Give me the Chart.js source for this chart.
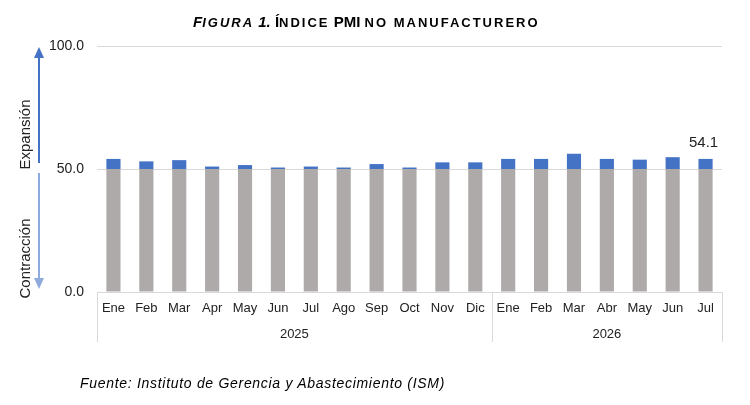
<!DOCTYPE html>
<html>
<head>
<meta charset="utf-8">
<script src="https://cdn.jsdelivr.net/npm/chart.js@4.4.0/dist/chart.umd.min.js"></script>
<style>
html,body{margin:0;padding:0;background:#fff;}
#wrap{position:relative;width:750px;height:405px;overflow:hidden;}
canvas{position:absolute;left:0;top:0;}
#title{position:absolute;left:193px;top:14px;white-space:nowrap;font-family:"Liberation Sans",Arial,sans-serif;font-weight:bold;color:#000;line-height:15px;font-size:15px;}
#title .s{font-size:13px;text-transform:uppercase;letter-spacing:2px;}
#src{position:absolute;left:80px;top:375px;white-space:nowrap;font:italic 14px "Liberation Sans",Arial,sans-serif;letter-spacing:0.7px;line-height:16px;color:#000;}
</style>
</head>
<body>
<div id="wrap">
<canvas id="c" width="750" height="405" style="width:750px;height:405px"></canvas>
<div id="title"><i>F<span class="s">igura</span> 1.</i> Í<span class="s">ndice</span> PMI <span class="s">no manufacturero</span></div>
<div id="src">Fuente: Instituto de Gerencia y Abastecimiento (ISM)</div>
</div>
<script>
const months = ['Ene','Feb','Mar','Apr','May','Jun','Jul','Ago','Sep','Oct','Nov','Dic','Ene','Feb','Mar','Abr','May','Jun','Jul'];
const years = ['2025','2026'];
const yearSpans = [12, 7];
const pmi = [54.1,53.1,53.6,51.0,51.6,50.6,51.0,50.6,52.0,50.6,52.7,52.7,54.1,54.1,56.2,54.1,53.8,54.8,54.1];
const threshold = 50;
const yTicks = [0, 50, 100];
const upperLabel = 'Expansión';
const lowerLabel = 'Contracción';
const lastLabel = '54.1';

const FONT = '"Liberation Sans", Arial, sans-serif';
const baseVals = pmi.map(v => Math.min(v, threshold));
const aboveVals = pmi.map(v => Math.max(v - threshold, 0));

const decor = {
  id: 'decor',
  afterDraw(chart) {
    const ctx = chart.ctx;
    const x = chart.scales.x, y = chart.scales.y;
    const area = chart.chartArea;
    const axisY = area.bottom;
    const lowY = axisY + 50;
    ctx.save();
    // group separators
    ctx.strokeStyle = '#d9d9d9';
    ctx.lineWidth = 1;
    const bounds = [area.left];
    let idx = 0;
    yearSpans.forEach((n, i) => {
      idx += n;
      if (idx < months.length) {
        bounds.push((x.getPixelForValue(idx - 1) + x.getPixelForValue(idx)) / 2);
      }
    });
    bounds.push(area.right);
    bounds.forEach(bx => {
      const px = Math.round(bx) + 0.5;
      ctx.beginPath(); ctx.moveTo(px, axisY); ctx.lineTo(px, lowY); ctx.stroke();
    });
    // year labels
    ctx.fillStyle = '#222';
    ctx.font = '13px ' + FONT;
    ctx.textAlign = 'center';
    ctx.textBaseline = 'alphabetic';
    years.forEach((yr, i) => {
      ctx.fillText(yr, (bounds[i] + bounds[i + 1]) / 2, axisY + 46);
    });
    // last value label
    const meta = chart.getDatasetMeta(1);
    const el = meta.data[pmi.length - 1];
    ctx.font = '15px ' + FONT;
    ctx.fillStyle = '#222';
    ctx.fillText(lastLabel, el.x - 2, el.y - 12);
    // arrows
    const ax = 39;
    const yMid = y.getPixelForValue(threshold);
    const yTop = y.getPixelForValue(yTicks[yTicks.length - 1]);
    const yBot = y.getPixelForValue(yTicks[0]);
    function arrow(y0, y1, color) {
      const dir = y1 < y0 ? -1 : 1;
      ctx.strokeStyle = color; ctx.fillStyle = color; ctx.lineWidth = 2;
      ctx.beginPath(); ctx.moveTo(ax, y0); ctx.lineTo(ax, y1 - dir * 9); ctx.stroke();
      ctx.beginPath();
      ctx.moveTo(ax, y1);
      ctx.lineTo(ax - 5, y1 - dir * 11);
      ctx.lineTo(ax + 5, y1 - dir * 11);
      ctx.closePath(); ctx.fill();
    }
    arrow(yMid - 6, yTop + 1, '#4472C4');
    arrow(yMid + 4, yBot - 3, '#8FAADC');
    // rotated labels
    ctx.fillStyle = '#222';
    ctx.font = '15px ' + FONT;
    ctx.textAlign = 'center';
    ctx.textBaseline = 'alphabetic';
    function vtext(t, cy) {
      ctx.save(); ctx.translate(30, cy); ctx.rotate(-Math.PI / 2); ctx.fillText(t, 0, 0); ctx.restore();
    }
    vtext(upperLabel, (yTop + yMid) / 2 + 27);
    vtext(lowerLabel, (yMid + yBot) / 2 + 28);
    ctx.restore();
  }
};

new Chart(document.getElementById('c'), {
  type: 'bar',
  data: {
    labels: months,
    datasets: [
      { data: baseVals, backgroundColor: '#AEAAAA', barPercentage: 0.43, categoryPercentage: 1 },
      { data: aboveVals, backgroundColor: '#4472C4', barPercentage: 0.43, categoryPercentage: 1 }
    ]
  },
  options: {
    responsive: false,
    animation: false,
    devicePixelRatio: 1,
    layout: { padding: { top: 46, right: 28, left: 0, bottom: 0 } },
    plugins: { legend: { display: false }, tooltip: { enabled: false }, title: { display: false } },
    scales: {
      x: {
        stacked: true,
        grid: { display: false, drawTicks: false },
        border: { display: true, color: '#d9d9d9' },
        ticks: { padding: 9, autoSkip: false, maxRotation: 0, font: { family: FONT, size: 13 }, color: '#222' },
        afterFit(s) { s.height = 113; }
      },
      y: {
        stacked: true,
        min: yTicks[0],
        max: yTicks[yTicks.length - 1],
        afterBuildTicks(s) { s.ticks = yTicks.map(v => ({ value: v })); },
        grid: { color: '#d9d9d9', drawTicks: false },
        border: { display: false },
        ticks: { padding: 13, font: { family: FONT, size: 14 }, color: '#222', callback: v => Number(v).toFixed(1) },
        afterFit(s) { s.width = 97; }
      }
    }
  },
  plugins: [decor]
});
</script>
</body>
</html>
